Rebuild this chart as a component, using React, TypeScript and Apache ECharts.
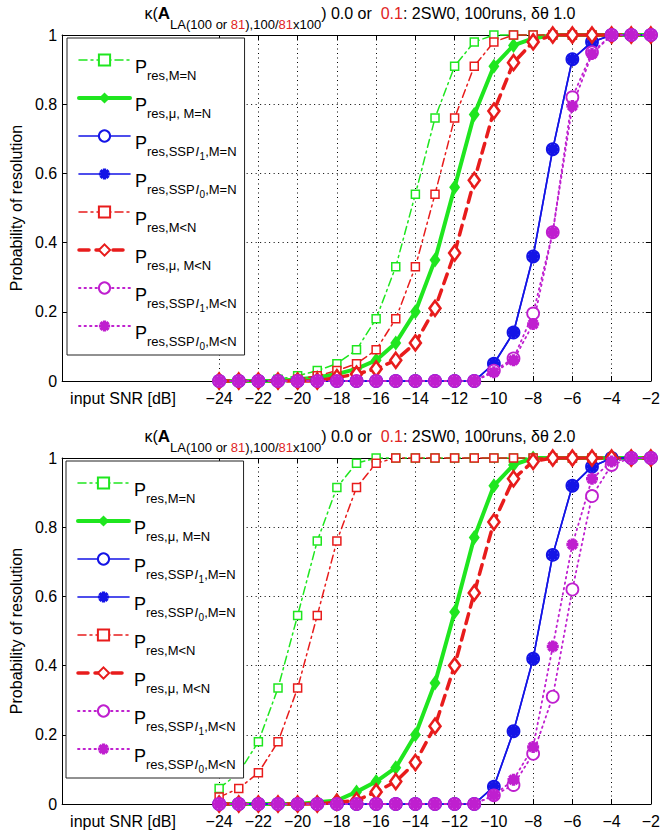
import React, { useEffect, useRef } from "react";
import * as echarts from "echarts";

// ---------- data ----------
const SNR = [-24, -23, -22, -21, -20, -19, -18, -17, -16, -15, -14, -13, -12, -11, -10, -9, -8, -7, -6, -5, -4, -3, -2];
const X_TICKS = [-24, -22, -20, -18, -16, -14, -12, -10, -8, -6, -4, -2];
const X_TICK_LABELS = ["−24", "−22", "−20", "−18", "−16", "−14", "−12", "−10", "−8", "−6", "−4", "−2"];
const Y_TICKS = [0, 0.2, 0.4, 0.6, 0.8, 1];
const Y_TICK_LABELS = ["0", "0.2", "0.4", "0.6", "0.8", "1"];

const SERIES_NAMES = [
  "Pres,M=N",
  "Pres,mu,M=N",
  "Pres,SSPl1,M=N",
  "Pres,SSPl0,M=N",
  "Pres,M<N",
  "Pres,mu,M<N",
  "Pres,SSPl1,M<N",
  "Pres,SSPl0,M<N",
];

// top panel: delta theta 1.0
const TOP_RES_MN = [0, 0, 0, 0.005, 0.015, 0.03, 0.05, 0.09, 0.18, 0.33, 0.54, 0.76, 0.91, 0.98, 1, 1, 1, 1, 1, 1, 1, 1, 1];
const TOP_MU_MN = [0, 0, 0, 0, 0.005, 0.01, 0.02, 0.035, 0.06, 0.11, 0.2, 0.35, 0.56, 0.77, 0.91, 0.97, 0.99, 1, 1, 1, 1, 1, 1];
const TOP_L1_MN = [0, 0, 0, 0, 0, 0, 0, 0, 0, 0, 0, 0, 0, 0, 0.05, 0.14, 0.36, 0.67, 0.93, 0.98, 1, 1, 1];
const TOP_L0_MN = [0, 0, 0, 0, 0, 0, 0, 0, 0, 0, 0, 0, 0, 0, 0.05, 0.14, 0.36, 0.67, 0.93, 0.98, 1, 1, 1];
const TOP_RES_MLN = [0, 0, 0, 0, 0.005, 0.015, 0.03, 0.05, 0.09, 0.18, 0.33, 0.54, 0.76, 0.91, 0.98, 1, 1, 1, 1, 1, 1, 1, 1];
const TOP_MU_MLN = [0, 0, 0, 0, 0, 0, 0.01, 0.02, 0.035, 0.06, 0.11, 0.21, 0.37, 0.58, 0.78, 0.92, 0.98, 1, 1, 1, 1, 1, 1];
const TOP_L1_MLN = [0, 0, 0, 0, 0, 0, 0, 0, 0, 0, 0, 0, 0, 0, 0.03, 0.065, 0.195, 0.43, 0.82, 0.95, 1, 1, 1];
const TOP_L0_MLN = [0, 0, 0, 0, 0, 0, 0, 0, 0, 0, 0, 0, 0, 0, 0.025, 0.06, 0.165, 0.43, 0.795, 0.945, 1, 1, 1];

// bottom panel: delta theta 2.0
const BOT_RES_MN = [0.045, 0.09, 0.18, 0.335, 0.545, 0.76, 0.915, 0.985, 1, 1, 1, 1, 1, 1, 1, 1, 1, 1, 1, 1, 1, 1, 1];
const BOT_MU_MN = [0, 0, 0, 0, 0, 0.005, 0.01, 0.035, 0.065, 0.105, 0.2, 0.35, 0.555, 0.77, 0.92, 0.98, 1, 1, 1, 1, 1, 1, 1];
const BOT_L1_MN = [0, 0, 0, 0, 0, 0, 0, 0, 0, 0, 0, 0, 0, 0, 0.05, 0.21, 0.42, 0.72, 0.92, 0.975, 1, 1, 1];
const BOT_L0_MN = [0, 0, 0, 0, 0, 0, 0, 0, 0, 0, 0, 0, 0, 0, 0.05, 0.21, 0.42, 0.72, 0.92, 0.975, 1, 1, 1];
const BOT_RES_MLN = [0.02, 0.045, 0.09, 0.18, 0.335, 0.545, 0.76, 0.915, 0.985, 1, 1, 1, 1, 1, 1, 1, 1, 1, 1, 1, 1, 1, 1];
const BOT_MU_MLN = [0, 0, 0, 0, 0, 0, 0.005, 0.01, 0.035, 0.065, 0.12, 0.225, 0.4, 0.61, 0.815, 0.94, 0.99, 1, 1, 1, 1, 1, 1];
const BOT_L1_MLN = [0, 0, 0, 0, 0, 0, 0, 0, 0, 0, 0, 0, 0, 0, 0.025, 0.055, 0.145, 0.31, 0.62, 0.89, 0.98, 1, 1];
const BOT_L0_MLN = [0, 0, 0, 0, 0, 0, 0, 0, 0, 0, 0, 0, 0, 0, 0.025, 0.07, 0.165, 0.455, 0.75, 0.94, 0.99, 1, 1];

const TOP_VALUES = [TOP_RES_MN, TOP_MU_MN, TOP_L1_MN, TOP_L0_MN, TOP_RES_MLN, TOP_MU_MLN, TOP_L1_MLN, TOP_L0_MLN];
const BOT_VALUES = [BOT_RES_MN, BOT_MU_MN, BOT_L1_MN, BOT_L0_MN, BOT_RES_MLN, BOT_MU_MLN, BOT_L1_MLN, BOT_L0_MLN];

// ---------- styles ----------
const FONT = "'Liberation Sans', Arial, Helvetica, sans-serif";
const GREEN = "#1fe61f";
const BLUE = "#1414e6";
const RED = "#e81c1c";
const MAG = "#bf1fcf";
const TITLE_RED = "#e02424";

function asteriskPath(): string {
  const L = 10;
  const w = 2.9;
  let d = "";
  for (const deg of [0, 45, 90, 135]) {
    const t = (deg * Math.PI) / 180;
    const c = Math.cos(t);
    const s = Math.sin(t);
    const pts = [
      [-L, -w],
      [L, -w],
      [L, w],
      [-L, w],
    ].map(([a, b]) => [a * c - b * s, a * s + b * c]);
    d += "M" + pts.map((p) => p[0].toFixed(3) + " " + p[1].toFixed(3)).join(" L") + " Z ";
  }
  return "path://" + d;
}
const ASTERISK = asteriskPath();

const STYLES: any[] = [
  { color: GREEN, width: 1.5, dash: [8, 4, 2, 4], symbol: "rect", size: 8, open: true, bw: 1.5 },
  { color: GREEN, width: 4, dash: "solid", symbol: "diamond", size: [11, 15], open: false, bw: 0 },
  { color: BLUE, width: 1.6, dash: "solid", symbol: "circle", size: 12, open: true, bw: 1.8 },
  { color: BLUE, width: 1.6, dash: "solid", symbol: ASTERISK, size: 12, open: false, bw: 0 },
  { color: RED, width: 1.5, dash: [8, 4, 2, 4], symbol: "rect", size: 8, open: true, bw: 1.5 },
  { color: RED, width: 3.5, dash: [10, 7], symbol: "diamond", size: [11, 15], open: true, bw: 2.6 },
  { color: MAG, width: 1.8, dash: [1.5, 4], symbol: "circle", size: 12, open: true, bw: 1.8 },
  { color: MAG, width: 1.8, dash: [1.5, 4], symbol: ASTERISK, size: 12, open: false, bw: 0 },
];

const LEGEND_TEXT: Record<string, string> = {
  "Pres,M=N": "{P|P}{s|res,M=N}",
  "Pres,mu,M=N": "{P|P}{s|res,μ, M=N}",
  "Pres,SSPl1,M=N": "{P|P}{s|res,SSP}{i|l}{ss|1}{s|,M=N}",
  "Pres,SSPl0,M=N": "{P|P}{s|res,SSP}{i|l}{ss|0}{s|,M=N}",
  "Pres,M<N": "{P|P}{s|res,M<N}",
  "Pres,mu,M<N": "{P|P}{s|res,μ, M<N}",
  "Pres,SSPl1,M<N": "{P|P}{s|res,SSP}{i|l}{ss|1}{s|,M<N}",
  "Pres,SSPl0,M<N": "{P|P}{s|res,SSP}{i|l}{ss|0}{s|,M<N}",
};

const GRID_TOPS = [35, 458];
const GRID_H = 346;
const GRID_LEFT = 61;
const GRID_W = 598;

function xAxis(gridIndex: number, position: "bottom" | "top") {
  const bottom = position === "bottom";
  return {
    type: "value",
    gridIndex,
    position,
    min: -32,
    max: -2,
    interval: 2,
    axisLine: { show: true, onZero: false, lineStyle: { color: "#000", width: 1 } },
    axisTick: { show: true, inside: true, length: 5, customValues: X_TICKS, lineStyle: { color: "#000", width: 1 } },
    axisLabel: {
      show: bottom,
      customValues: X_TICKS,
      formatter: (v: number) => {
        const i = X_TICKS.indexOf(Math.round(v));
        return i >= 0 ? X_TICK_LABELS[i] : "";
      },
      fontSize: 16,
      fontFamily: FONT,
      color: "#000",
      margin: 9,
    },
    splitLine: { show: bottom, lineStyle: { color: "#000", width: 1, type: [1, 3.5] } },
  };
}

function yAxis(gridIndex: number, position: "left" | "right") {
  const left = position === "left";
  return {
    type: "value",
    gridIndex,
    position,
    min: 0,
    max: 1,
    interval: 0.2,
    name: left ? "Probability of resolution" : "",
    nameLocation: "middle",
    nameGap: 38,
    nameTextStyle: { fontSize: 16, fontFamily: FONT, color: "#000" },
    axisLine: { show: true, lineStyle: { color: "#000", width: 1 } },
    axisTick: { show: true, inside: true, length: 5, lineStyle: { color: "#000", width: 1 } },
    axisLabel: {
      show: left,
      formatter: (v: number) => {
        let best = 0;
        Y_TICKS.forEach((t, i) => {
          if (Math.abs(t - v) < Math.abs(Y_TICKS[best] - v)) best = i;
        });
        return Y_TICK_LABELS[best];
      },
      fontSize: 16,
      fontFamily: FONT,
      color: "#000",
      margin: 5,
    },
    splitLine: { show: left, lineStyle: { color: "#000", width: 1, type: [1, 3.5] } },
  };
}

function buildSeries(values: number[][], panel: number) {
  return values.map((vals, k) => {
    const st = STYLES[k];
    return {
      type: "line",
      name: SERIES_NAMES[k],
      xAxisIndex: panel * 2,
      yAxisIndex: panel * 2,
      data: SNR.map((x, i) => [x, vals[i]]),
      symbol: st.symbol,
      symbolSize: st.size,
      showSymbol: true,
      showAllSymbol: true,
      clip: false,
      lineStyle: { color: st.color, width: st.width, type: st.dash, cap: "round" },
      itemStyle: st.open
        ? { color: "#fff", borderColor: st.color, borderWidth: st.bw }
        : { color: st.color, borderWidth: 0 },
      emphasis: { disabled: true },
      z: 2,
    };
  });
}

function legend(left: number, top: number) {
  return {
    orient: "vertical",
    left,
    top,
    padding: [12, 8, 2, 10],
    itemWidth: 51,
    itemHeight: 14,
    itemGap: 1,
    selectedMode: false,
    backgroundColor: "#fff",
    borderColor: "#222",
    borderWidth: 1,
    data: SERIES_NAMES,
    lineStyle: { width: "inherit" },
    formatter: (name: string) => LEGEND_TEXT[name] || name,
    textStyle: {
      fontFamily: FONT,
      color: "#000",
      rich: {
        P: { fontSize: 18, lineHeight: 20, padding: [8, 0, 10, 0], verticalAlign: "top", fontFamily: FONT, color: "#000" },
        s: { fontSize: 13, lineHeight: 14, padding: [19, 0, 5, 0], verticalAlign: "top", fontFamily: FONT, color: "#000" },
        i: { fontSize: 13, lineHeight: 14, padding: [19, 1, 5, 1], verticalAlign: "top", fontStyle: "italic", fontFamily: FONT, color: "#000" },
        ss: { fontSize: 10, lineHeight: 12, padding: [25, 0, 1, 0], verticalAlign: "top", fontFamily: FONT, color: "#000" },
      },
    },
    z: 10,
  };
}

function titleText(dtheta: string) {
  return (
    "{m|κ(}{b|A}{s|LA(100 or }{sr|81}{s|),100/}{sr|81}{s|x100}{m|) 0.0 or  }{r|0.1}{m|: 2SW0, 100runs, δθ " +
    dtheta +
    "}"
  );
}

const TITLE_RICH: any = {
  m: { fontSize: 16, lineHeight: 18, verticalAlign: "top", fontFamily: FONT, fill: "#000" },
  b: { fontSize: 17, lineHeight: 18, verticalAlign: "top", fontFamily: FONT, fontWeight: "bold", fill: "#000" },
  r: { fontSize: 16, lineHeight: 18, verticalAlign: "top", fontFamily: FONT, fill: TITLE_RED },
  s: { fontSize: 13, lineHeight: 14, padding: [13, 0, 0, 0], verticalAlign: "top", fontFamily: FONT, fill: "#000" },
  sr: { fontSize: 13, lineHeight: 14, padding: [13, 0, 0, 0], verticalAlign: "top", fontFamily: FONT, fill: TITLE_RED },
};

function buildOption() {
  return {
    animation: false,
    backgroundColor: "#fff",
    grid: GRID_TOPS.map((top) => ({ left: GRID_LEFT, top, width: GRID_W, height: GRID_H, containLabel: false })),
    xAxis: [xAxis(0, "bottom"), xAxis(0, "top"), xAxis(1, "bottom"), xAxis(1, "top")],
    yAxis: [yAxis(0, "left"), yAxis(0, "right"), yAxis(1, "left"), yAxis(1, "right")],
    legend: [legend(67, 38), legend(66, 461)],
    series: [...buildSeries(TOP_VALUES, 0), ...buildSeries(BOT_VALUES, 1)],
    graphic: [
      {
        type: "text",
        x: 360,
        y: 5,
        z: 20,
        style: { text: titleText("1.0"), rich: TITLE_RICH, align: "center", verticalAlign: "top", fontFamily: FONT, fontSize: 16, fill: "#000" },
      },
      {
        type: "text",
        x: 360,
        y: 428,
        z: 20,
        style: { text: titleText("2.0"), rich: TITLE_RICH, align: "center", verticalAlign: "top", fontFamily: FONT, fontSize: 16, fill: "#000" },
      },
      {
        type: "text",
        x: 123,
        y: GRID_TOPS[0] + GRID_H + 17,
        style: { text: "input SNR [dB]", fontSize: 16, fontFamily: FONT, fill: "#000", align: "center", verticalAlign: "middle" },
      },
      {
        type: "text",
        x: 123,
        y: GRID_TOPS[1] + GRID_H + 17,
        style: { text: "input SNR [dB]", fontSize: 16, fontFamily: FONT, fill: "#000", align: "center", verticalAlign: "middle" },
      },
    ],
  };
}

export default function App() {
  const ref = useRef<HTMLDivElement>(null);
  useEffect(() => {
    if (!ref.current) return;
    const chart = echarts.init(ref.current, undefined, { renderer: "svg" });
    chart.setOption(buildOption() as any);
    return () => chart.dispose();
  }, []);
  return <div ref={ref} style={{ position: "absolute", left: 0, top: 0, width: 663, height: 838 }} />;
}
